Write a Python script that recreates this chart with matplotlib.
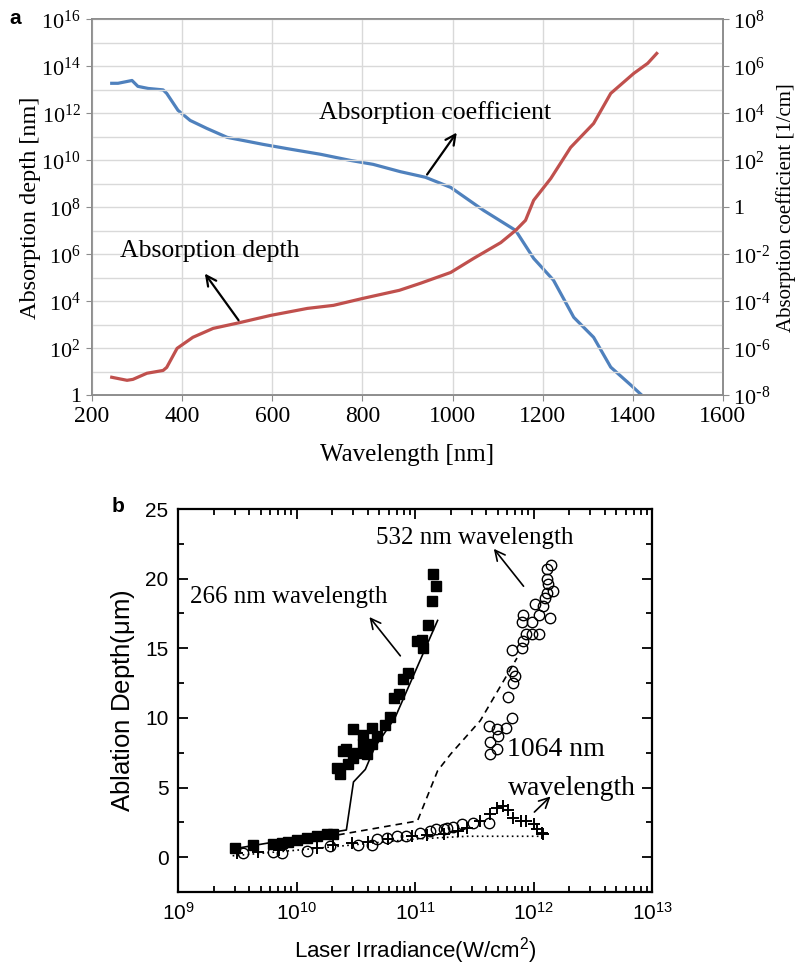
import numpy as np
import matplotlib
matplotlib.use('Agg')
from matplotlib import pyplot as plt
from matplotlib.ticker import FixedLocator, FuncFormatter, LogLocator, MultipleLocator, NullFormatter

# ---- panel a: silicon absorption (log10 values)
coef_wl = [244, 258, 289, 302, 325, 358, 366, 391, 418, 455, 500, 580, 633, 707, 773,
           824, 884, 940, 996, 1069, 1140, 1180, 1224, 1269, 1313, 1351, 1396, 1418]
coef_log = [5.28, 5.28, 5.40, 5.15, 5.06, 5.00, 4.85, 4.13, 3.70, 3.36, 2.98, 2.68, 2.50, 2.26, 2.00,
            1.83, 1.52, 1.28, 0.85, -0.13, -0.98, -2.17, -3.10, -4.68, -5.53, -6.80, -7.57, -7.96]

depth_wl = [244, 278, 291, 322, 358, 366, 389, 424, 469, 529, 596, 678, 736, 802, 882,
            929, 996, 1047, 1107, 1140, 1162, 1180, 1218, 1262, 1313, 1351, 1402, 1433, 1453]
depth_log = [0.77, 0.64, 0.68, 0.94, 1.06, 1.19, 2.00, 2.47, 2.85, 3.10, 3.40, 3.70, 3.83, 4.13, 4.47,
             4.77, 5.23, 5.83, 6.50, 7.02, 7.45, 8.30, 9.23, 10.55, 11.57, 12.85, 13.70, 14.13, 14.55]

# ---- panel b: ablation depth vs irradiance (log10 irradiance, depth in um)
sq_logx = [9.48, 9.63, 9.80, 9.88, 9.93, 10.00, 10.09, 10.17, 10.26, 10.31,
           10.34, 10.37, 10.39, 10.43, 10.48, 10.48, 10.42, 10.51, 10.56, 10.56, 10.59,
           10.64, 10.64, 10.68, 10.75, 10.79, 10.82, 10.86, 10.90, 10.94, 11.02, 11.06,
           11.07, 11.11, 11.14, 11.15, 11.18]
sq_y = [0.65, 0.86, 0.93, 1.00, 1.08, 1.20, 1.36, 1.50, 1.65, 1.65,
        6.40, 5.95, 7.60, 6.70, 7.10, 9.20, 7.80, 7.50, 8.10, 8.80, 7.40,
        9.30, 8.10, 8.70, 9.50, 10.10, 11.40, 11.70, 12.80, 13.20, 15.50, 15.60,
        15.00, 16.70, 18.40, 20.30, 19.50]
sq_fit_logx = [9.47, 10.31, 10.42, 10.48, 10.58, 10.66, 10.83, 11.19]
sq_fit_y = [0.6, 1.8, 1.95, 5.4, 6.3, 7.9, 10.0, 17.0]

ci_logx = [9.55, 9.80, 9.88, 10.09, 10.28, 10.52, 10.64, 10.68, 10.76, 10.85, 10.92, 11.04,
           11.13, 11.18, 11.24, 11.27, 11.32, 11.40, 11.49, 11.62,
           11.63, 11.69, 11.63, 11.70, 11.62, 11.77, 11.69, 11.82, 11.78, 11.83, 11.84, 11.82,
           11.82, 11.90, 11.91, 11.94, 11.99, 12.05, 11.91, 11.90, 11.99, 12.05, 12.01, 12.08,
           12.10, 12.14, 12.11, 12.16, 12.12, 12.11, 12.15, 12.11]
ci_y = [0.30, 0.40, 0.30, 0.45, 0.80, 0.90, 0.90, 1.30, 1.35, 1.50, 1.50, 1.70,
        1.85, 2.00, 2.00, 2.10, 2.20, 2.35, 2.45, 2.45,
        7.40, 7.80, 8.30, 8.70, 9.40, 9.30, 9.20, 10.00, 11.50, 12.50, 13.00, 13.40,
        14.90, 15.00, 15.50, 16.00, 16.00, 16.00, 17.40, 16.90, 16.90, 17.40, 18.20, 18.00,
        18.60, 17.20, 19.00, 19.10, 19.60, 20.00, 21.00, 20.70]
ci_fit_logx = [10.35, 11.02, 11.19, 11.30, 11.55, 11.86]
ci_fit_y = [1.6, 2.6, 6.2, 7.4, 9.8, 14.3]

pl_logx = [9.50, 9.67, 9.85, 10.17, 10.31, 10.47, 10.60, 10.77, 10.97, 11.10, 11.24, 11.36, 11.44,
           11.55, 11.63, 11.69, 11.74, 11.78, 11.83, 11.89, 11.94, 12.00, 12.03, 12.07, 12.08]
pl_y = [0.30, 0.40, 0.50, 0.65, 0.90, 1.00, 1.10, 1.30, 1.50, 1.60, 1.65, 1.90, 2.10,
        2.60, 3.10, 3.50, 3.70, 3.40, 2.80, 2.60, 2.60, 2.40, 2.00, 1.70, 1.65]
pl_fit_logx = [9.46, 10.0, 11.0, 11.44, 12.08]
pl_fit_y = [0.1, 0.5, 1.3, 1.5, 1.5]

serif = 'Liberation Serif'
sans = 'Liberation Sans'
grey = '#8c8c8c'

fig = plt.figure(figsize=(8.06, 9.69), dpi=100)

# ================= panel a
ax = fig.add_axes([0.114, 0.592, 0.783, 0.388])
ax2 = ax.twinx()
ax.set_zorder(ax2.get_zorder() + 1)
ax.patch.set_visible(False)

ax.plot(depth_wl, 10.0 ** np.array(depth_log), color='#c0504d', lw=2.3)
ax2.plot(coef_wl, 10.0 ** np.array(coef_log), color='#4f81bd', lw=2.3)

ax.set_xlim(200, 1600)
ax.set_yscale('log')
ax.set_ylim(1, 1e16)
ax2.set_yscale('log')
ax2.set_ylim(1e-8, 1e8)


def pow_fmt(v, pos):
    e = int(round(np.log10(v)))
    if e == 0:
        return '1'
    return r'$\mathregular{10^{%d}}$' % e


def pow_fmt_hyphen(v, pos):
    e = int(round(np.log10(v)))
    if e == 0:
        return '1'
    if e < 0:
        return r'$\mathregular{10^{\text{-}%d}}$' % (-e)
    return r'$\mathregular{10^{%d}}$' % e


ax.yaxis.set_major_locator(FixedLocator([10.0 ** k for k in range(0, 17, 2)]))
ax.yaxis.set_minor_locator(FixedLocator([10.0 ** k for k in range(1, 16, 2)]))
ax.yaxis.set_major_formatter(FuncFormatter(pow_fmt))
ax.yaxis.set_minor_formatter(NullFormatter())
ax2.yaxis.set_major_locator(FixedLocator([10.0 ** k for k in range(-8, 9, 2)]))
ax2.yaxis.set_minor_locator(FixedLocator([]))
ax2.yaxis.set_major_formatter(FuncFormatter(pow_fmt_hyphen))
ax.xaxis.set_major_locator(MultipleLocator(200))

ax.grid(True, which='both', color='#d9d9d9', lw=1.0)
ax.set_axisbelow(True)
for a in (ax, ax2):
    for s in a.spines.values():
        s.set_color(grey)
        s.set_linewidth(1.2)
ax.tick_params(axis='both', which='both', direction='out', length=4, color=grey,
               labelsize=16, pad=4)
ax.tick_params(axis='x', labelsize=17)
ax.tick_params(axis='y', which='minor', length=0)
ax2.tick_params(axis='y', direction='out', length=4, color=grey, labelsize=16)
for lab in ax.get_xticklabels() + ax.get_yticklabels() + ax2.get_yticklabels():
    lab.set_family(serif)

ax.set_xlabel('Wavelength [nm]', family=serif, fontsize=18, labelpad=12)
ax.set_ylabel('Absorption depth [nm]', family=serif, fontsize=17.5, labelpad=0)
ax2.set_ylabel('Absorption coefficient [1/cm]', family=serif, fontsize=15, labelpad=4)

ax.text(962, 10 ** 12.05, 'Absorption coefficient', family=serif, fontsize=18.5,
        ha='center', va='center')
ax.annotate('', xy=(1013, 10 ** 11.28), xytext=(940, 10 ** 9.3),
            arrowprops=dict(arrowstyle='->', color='black', lw=1.6, mutation_scale=18))
ax.text(262, 10 ** 6.15, 'Absorption depth', family=serif, fontsize=18.5,
        ha='left', va='center')
ax.annotate('', xy=(447, 10 ** 5.28), xytext=(529, 10 ** 3.1),
            arrowprops=dict(arrowstyle='->', color='black', lw=1.6, mutation_scale=18))

fig.text(0.012, 0.981, 'a', family=sans, fontweight='bold', fontsize=15, va='center')

# ================= panel b
bx = fig.add_axes([0.221, 0.0795, 0.588, 0.3952])
bx.plot(10.0 ** np.array(sq_fit_logx), sq_fit_y, color='black', lw=1.2)
bx.plot(10.0 ** np.array(ci_fit_logx), ci_fit_y, color='black', lw=1.2, ls=(0, (4, 3)))
bx.plot(10.0 ** np.array(pl_fit_logx), pl_fit_y, color='black', lw=1.2, ls=(0, (1, 2)))
bx.plot(10.0 ** np.array(pl_logx), pl_y, ls='none', marker='+', ms=8, mew=1.4, color='black')
bx.plot(10.0 ** np.array(ci_logx), ci_y, ls='none', marker='o', ms=7.5, mfc='none',
        mec='black', mew=1.0)
bx.plot(10.0 ** np.array(sq_logx), sq_y, ls='none', marker='s', ms=6.5, color='black')

bx.set_xscale('log')
bx.set_xlim(1e9, 1e13)
bx.set_ylim(-2.5, 25)
bx.xaxis.set_major_locator(LogLocator(base=10, numticks=10))
bx.xaxis.set_minor_locator(LogLocator(base=10, subs=np.arange(2, 10), numticks=50))
bx.xaxis.set_minor_formatter(NullFormatter())
bx.xaxis.set_major_formatter(FuncFormatter(pow_fmt))
bx.yaxis.set_major_locator(FixedLocator([0, 5, 10, 15, 20, 25]))
bx.yaxis.set_minor_locator(FixedLocator([-2.5, 2.5, 7.5, 12.5, 17.5, 22.5]))
bx.tick_params(axis='both', which='both', direction='in', top=True, right=True,
               labelsize=15, width=1.3, pad=7)
bx.tick_params(axis='both', which='major', length=7)
bx.tick_params(axis='both', which='minor', length=4)
bx.tick_params(axis='y', which='both', labelright=False)
for s in bx.spines.values():
    s.set_linewidth(1.6)
for lab in bx.get_xticklabels() + bx.get_yticklabels():
    lab.set_family(sans)

bx.set_xlabel(r'Laser Irradiance(W/cm$\mathregular{^2}$)', family=sans, fontsize=16, labelpad=8)
bx.set_ylabel(r'Ablation Depth($\mathregular{\mu}$m)', family=sans, fontsize=18.5, labelpad=6)

bx.text(10 ** 11.50, 22.9, '532 nm wavelength', family=serif, fontsize=18,
        ha='center', va='center')
bx.annotate('', xy=(10 ** 11.65, 22.3), xytext=(10 ** 11.93, 19.3),
            arrowprops=dict(arrowstyle='->', color='black', lw=1.2, mutation_scale=18))
bx.text(10 ** 9.93, 18.7, '266 nm wavelength', family=serif, fontsize=18,
        ha='center', va='center')
bx.annotate('', xy=(10 ** 10.60, 17.4), xytext=(10 ** 10.89, 14.3),
            arrowprops=dict(arrowstyle='->', color='black', lw=1.2, mutation_scale=18))
bx.text(10 ** 12.19, 7.75, '1064 nm', family=serif, fontsize=20,
        ha='center', va='center')
bx.text(10 ** 12.32, 4.95, 'wavelength', family=serif, fontsize=20,
        ha='center', va='center')
bx.annotate('', xy=(10 ** 12.16, 4.5), xytext=(10 ** 11.99, 3.1),
            arrowprops=dict(arrowstyle='->', color='black', lw=1.2, mutation_scale=18))

fig.text(0.138, 0.477, 'b', family=sans, fontweight='bold', fontsize=15, va='center')

fig.savefig('out.png', dpi=100)
